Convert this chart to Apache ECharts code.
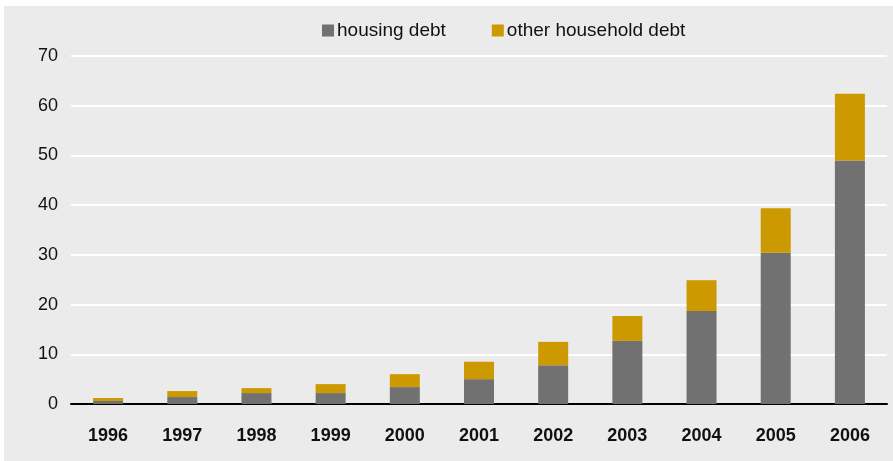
<!DOCTYPE html>
<html>
<head>
<meta charset="utf-8">
<script src="https://cdn.jsdelivr.net/npm/echarts@6/dist/echarts.min.js"></script>
<style>
html,body{margin:0;padding:0;background:#ffffff;width:893px;height:461px;overflow:hidden;}
#chart{position:absolute;left:4px;top:6px;width:889px;height:455px;background:#ebebeb;}
</style>
</head>
<body>
<div id="chart"></div>
<script>
const years = ['1996','1997','1998','1999','2000','2001','2002','2003','2004','2005','2006'];
const housingDebt = [0.6, 1.4, 2.2, 2.2, 3.4, 5.0, 7.8, 12.7, 18.7, 30.4, 49.0];
const otherDebt = [0.6, 1.2, 1.0, 1.8, 2.6, 3.5, 4.7, 5.0, 6.2, 9.0, 13.4];
const yTicks = [0, 10, 20, 30, 40, 50, 60, 70];

const chart = echarts.init(document.getElementById('chart'));
const font = '"Liberation Sans", Arial, Helvetica, sans-serif';
chart.setOption({
  animation: false,
  backgroundColor: '#ebebeb',
  legend: {
    left: 313,
    top: 10,
    itemWidth: 12,
    itemHeight: 12,
    itemGap: 46,
    icon: 'rect',
    textStyle: {fontFamily: font, fontSize: 19, color: '#111', padding: [0, 0, 0, -2]},
    data: ['housing debt', 'other household debt']
  },
  grid: {left: 67, right: 6, top: 50, bottom: 57},
  xAxis: {
    type: 'category',
    data: years,
    axisLine: {lineStyle: {color: '#000000', width: 2}},
    axisTick: {show: false},
    axisLabel: {fontFamily: font, fontSize: 18, fontWeight: 'bold', color: '#111', margin: 23}
  },
  yAxis: {
    type: 'value',
    min: yTicks[0],
    max: yTicks[yTicks.length - 1],
    interval: 10,
    axisLine: {show: false},
    axisTick: {show: false},
    axisLabel: {fontFamily: font, fontSize: 18, color: '#111', margin: 13},
    splitLine: {lineStyle: {color: '#ffffff', width: 2}}
  },
  series: [
    {name: 'housing debt', type: 'bar', stack: 'debt', data: housingDebt, barWidth: 30,
     itemStyle: {color: '#727172'}},
    {name: 'other household debt', type: 'bar', stack: 'debt', data: otherDebt, barWidth: 30,
     itemStyle: {color: '#cc9a00'}}
  ]
});
</script>
</body>
</html>
